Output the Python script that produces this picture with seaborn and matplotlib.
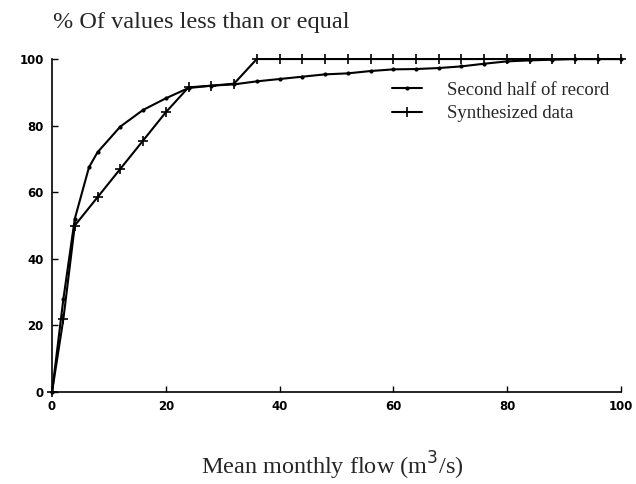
import matplotlib
matplotlib.use("Agg")
import matplotlib.pyplot as plt
import seaborn as sns
import pandas as pd

# Data
synth_x = [0, 2, 4, 8, 12, 16, 20, 24, 28, 32, 36, 40, 44, 48, 52, 56, 60,
           64, 68, 72, 76, 80, 84, 88, 92, 96, 100]
synth_y = [0, 22, 50, 58.5, 67, 75.5, 84, 91.5, 92, 92.6, 100, 100, 100, 100,
           100, 100, 100, 100, 100, 100, 100, 100, 100, 100, 100, 100, 100]

rec_x = [0, 2, 4, 6.5, 8, 12, 16, 20, 24, 28, 32, 36, 40, 44, 48, 52, 56, 60,
         64, 68, 72, 76, 80, 84, 88, 92, 96, 100]
rec_y = [0, 28, 52, 67.5, 72, 79.7, 84.7, 88.2, 91.3, 92, 92.4, 93.3, 94,
         94.7, 95.4, 95.7, 96.4, 96.9, 97, 97.3, 97.8, 98.6, 99.3, 99.6, 99.8,
         100, 100, 100]

x_ticks = [0, 20, 40, 60, 80, 100]
y_ticks = [0, 20, 40, 60, 80, 100]

sns.set_theme(style="white")
plt.rcParams['font.family'] = ['DejaVu Sans']

df_rec = pd.DataFrame({"x": rec_x, "y": rec_y})
df_syn = pd.DataFrame({"x": synth_x, "y": synth_y})

fig = plt.figure(figsize=(6.36, 4.84), dpi=100)
ax = fig.add_axes([0.0818, 0.19, 0.976 - 0.0818, 0.878 - 0.19])

sns.lineplot(data=df_rec, x="x", y="y", ax=ax, color="black", linewidth=1.5,
             marker="o", markersize=3, markeredgewidth=0,
             markerfacecolor="black",
             label="Second half of record", clip_on=False)
sns.lineplot(data=df_syn, x="x", y="y", ax=ax, color="black", linewidth=1.5,
             marker="+", markersize=7, markeredgewidth=1.2,
             markeredgecolor="black", markerfacecolor="black",
             label="Synthesized data", clip_on=False)

ax.set_xlim(0, 100)
ax.set_ylim(0, 100)
ax.set_xticks(x_ticks)
ax.set_yticks(y_ticks)
ax.set_xticklabels([str(t) for t in x_ticks], fontsize=8.5, fontweight="heavy",
                   family="DejaVu Sans")
ax.set_yticklabels([str(t) for t in y_ticks], fontsize=8.5, fontweight="heavy",
                   family="DejaVu Sans")
ax.tick_params(axis="both", direction="in", length=4, width=1, colors="black",
               bottom=True, left=True, pad=6)

for s in ["top", "right"]:
    ax.spines[s].set_visible(False)
for s in ["left", "bottom"]:
    ax.spines[s].set_color("black")
    ax.spines[s].set_linewidth(1.2)

ax.set_xlabel("")
ax.set_ylabel("")

fig.text(53 / 636, 1 - 28 / 484, "% Of values less than or equal",
         fontsize=17.5, family="Liberation Serif", ha="left", va="baseline")
fig.text(332 / 636, 1 - 475 / 484, "Mean monthly flow (m$^3$/s)",
         fontsize=17.5, family="Liberation Serif", ha="center", va="baseline")

leg = ax.legend(loc="upper left", bbox_to_anchor=(0.585, 0.955), frameon=False,
                prop={"family": "Liberation Serif", "size": 13.5},
                handlelength=1.6, handletextpad=1.3, labelspacing=0.35,
                borderaxespad=0)

fig.savefig("out.png", dpi=100, facecolor="white")
